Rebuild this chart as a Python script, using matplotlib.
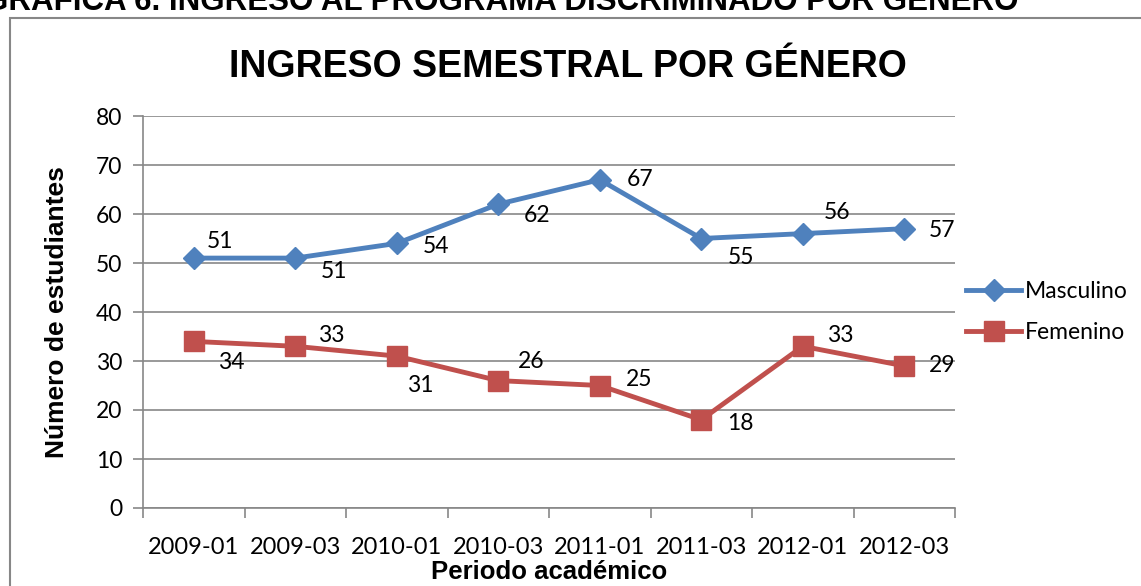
import matplotlib.pyplot as plt
from matplotlib.patches import Rectangle

periodos = ["2009-01", "2009-03", "2010-01", "2010-03", "2011-01", "2011-03", "2012-01", "2012-03"]
masculino = [51, 51, 54, 62, 67, 55, 56, 57]
femenino = [34, 33, 31, 26, 25, 18, 33, 29]

# posicion de etiquetas (dx, dy en puntos)
off_m = [(19, 12), (28, -10), (28, -2), (28, -8), (29, 0), (29, -13.5), (25, 15), (27, -1.5)]
off_f = [(27, -15), (26, 8), (17, -21.5), (24, 14), (28, 4), (28, -3), (27, 8), (27, 0)]

azul = "#4F81BD"
rojo = "#C0504D"
gris = "#878787"

fig = plt.figure(figsize=(11.41, 5.86), dpi=100)
ax = fig.add_axes([143 / 1141, 1 - 508 / 586, 812 / 1141, 392 / 586])

x = list(range(len(periodos)))
ax.plot(x, masculino, color=azul, lw=3.5, marker="D", ms=11, label="Masculino", zorder=3)
ax.plot(x, femenino, color=rojo, lw=3.5, marker="s", ms=14, label="Femenino", zorder=3)

for i in x:
    ax.annotate(str(masculino[i]), (i, masculino[i]), xytext=off_m[i], textcoords="offset points",
                ha="center", va="center", fontsize=16.5, family="Lato")
    ax.annotate(str(femenino[i]), (i, femenino[i]), xytext=off_f[i], textcoords="offset points",
                ha="center", va="center", fontsize=16.5, family="Lato")

ax.set_xlim(-0.5, len(periodos) - 0.5)
ax.set_ylim(0, 80)
ax.set_yticks(range(0, 81, 10))
ax.set_xticks(x)
ax.set_xticklabels(periodos, fontsize=17, family="Lato")
ax.set_xticks([i - 0.5 for i in range(len(periodos) + 1)], minor=True)
ax.tick_params(axis="x", which="major", length=0, pad=21)
ax.tick_params(axis="x", which="minor", length=7, color=gris, width=1.2, direction="out")
ax.tick_params(axis="y", length=7, color=gris, width=1.2, labelsize=16.5, pad=8)
for t in ax.get_yticklabels():
    t.set_family("Lato")
ax.yaxis.grid(True, color=gris, lw=1.2)
ax.set_axisbelow(True)
for s in ["top", "right"]:
    ax.spines[s].set_visible(False)
ax.spines["left"].set_color(gris)
ax.spines["bottom"].set_color(gris)
ax.spines["left"].set_linewidth(1.2)
ax.spines["bottom"].set_linewidth(1.2)

ax.set_ylabel("Número de estudiantes", fontsize=19, fontweight="bold", family="Liberation Sans", labelpad=19)
ax.set_xlabel("Periodo académico", fontsize=18.5, fontweight="bold", family="Liberation Sans", labelpad=1)

ax.legend(loc="center left", bbox_to_anchor=(1.0, 0.5), frameon=False,
          prop={"family": "Lato", "size": 16.5}, handlelength=2.4, handletextpad=0.15, labelspacing=0.85,
          borderaxespad=0.1)

fig.text(568 / 1141, 1 - 67 / 586, "INGRESO SEMESTRAL POR GÉNERO", ha="center", va="center",
         fontsize=27, fontweight="bold", family="Liberation Sans")

fig.text(-0.014, 1 - 2 / 586, "GRAFICA 6. INGRESO AL PROGRAMA DISCRIMINADO POR GÉNERO", ha="left", va="center",
         fontsize=22.5, fontweight="bold", family="Liberation Sans")

fig.patches.append(Rectangle((10 / 1141, -0.1), 1.2, 1 - 18 / 586 + 0.1, transform=fig.transFigure,
                             fill=False, edgecolor=gris, lw=1.5))

fig.savefig("out.png", dpi=100)
